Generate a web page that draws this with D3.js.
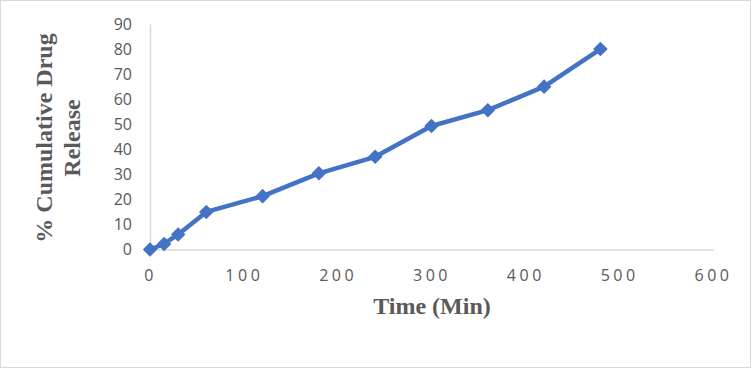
<!DOCTYPE html>
<html><head><meta charset="utf-8">
<script src="https://cdn.jsdelivr.net/npm/d3@7"></script>
<style>body{margin:0;background:#fff}svg{display:block}</style>
</head><body>
<svg id="c" width="752" height="369"></svg>
<script>
const times = [0, 15, 30, 60, 120, 180, 240, 300, 360, 420, 480];
const release = [0, 2.2, 6.0, 15.0, 21.3, 30.4, 37.0, 49.3, 55.6, 65.0, 80.0];
const xTicks = [0, 100, 200, 300, 400, 500, 600];
const yTicks = [0, 10, 20, 30, 40, 50, 60, 70, 80, 90];

const svg = d3.select("#c");
svg.append("rect").attr("x", 0.5).attr("y", 0.5).attr("width", 750).attr("height", 367)
  .attr("fill", "#fff").attr("stroke", "#d9d9d9").attr("stroke-width", 1);

const x = d3.scaleLinear().domain([0, 600]).range([150, 713]);
const y = d3.scaleLinear().domain([0, 90]).range([249.5, 24]);

const gx = svg.append("g").attr("transform", `translate(0,${y(0)})`)
  .call(d3.axisBottom(x).tickValues(xTicks).tickSize(0).tickPadding(20));
gx.select(".domain").attr("stroke", "#d9d9d9").attr("stroke-width", 1.5);
gx.selectAll("text").attr("fill", "#595959").style("font-family", "'Open Sans', sans-serif")
  .style("font-size", "16px").style("letter-spacing", "3.5px");

const gy = svg.append("g").attr("transform", `translate(${x(0)},0)`)
  .call(d3.axisLeft(y).tickValues(yTicks).tickSize(0).tickPadding(18));
gy.select(".domain").attr("stroke", "#d9d9d9").attr("stroke-width", 1.5);
gy.selectAll("text").attr("fill", "#595959").style("font-family", "'Open Sans', sans-serif")
  .style("font-size", "16px");

const data = times.map((t, i) => ({t, v: release[i]}));
svg.append("path").datum(data)
  .attr("fill", "none").attr("stroke", "#4472C4").attr("stroke-width", 4.5)
  .attr("stroke-linejoin", "round")
  .attr("d", d3.line().x(d => x(d.t)).y(d => y(d.v)));

const sym = d3.symbol().type(d3.symbolDiamond2).size(135);
svg.selectAll(".m").data(data).join("path")
  .attr("transform", d => `translate(${x(d.t)},${y(d.v)})`)
  .attr("d", sym).attr("fill", "#4472C4");

svg.append("text").attr("x", 432).attr("y", 314).attr("text-anchor", "middle")
  .attr("fill", "#595959").style("font-family", "'Liberation Serif', serif")
  .style("font-weight", "bold").style("font-size", "24px").text("Time (Min)");

const yt = svg.append("text").attr("transform", "translate(0,138) rotate(-90)")
  .attr("text-anchor", "middle").attr("fill", "#595959")
  .style("font-family", "'Liberation Serif', serif").style("font-weight", "bold").style("font-size", "24px");
yt.append("tspan").attr("x", 0).attr("y", 52).text("% Cumulative Drug");
yt.append("tspan").attr("x", 0).attr("y", 80).text("Release");
</script>
</body></html>
